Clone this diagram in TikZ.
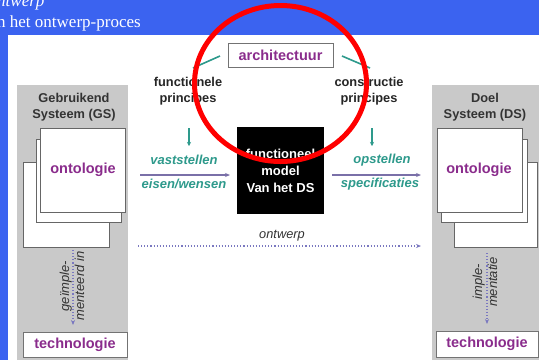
\documentclass[tikz,border=0pt]{standalone}
\usepackage{fontspec}
\setmainfont{Liberation Sans}
\newfontfamily\serifhead{Liberation Serif}
\usetikzlibrary{arrows.meta}
\definecolor{bgblue}{HTML}{3B63F0}
\definecolor{panelgray}{HTML}{C9C9C9}
\definecolor{purp}{HTML}{8A2C8C}
\definecolor{tealc}{HTML}{2E9A8C}
\definecolor{arrowc}{HTML}{7A70A8}
\definecolor{txtgray}{HTML}{333333}
\definecolor{dotblue}{HTML}{7A78C0}
\begin{document}
\begin{tikzpicture}[x=1pt,y=-1pt,
  pagebox/.style={draw=black!60, fill=white, line width=0.6pt},
  panelhead/.style={font=\bfseries\fontsize{12.8}{16}\selectfont, text=txtgray, align=center},
  purpword/.style={font=\bfseries\fontsize{14.5}{16}\selectfont, text=purp},
  purpbox/.style={draw=black!55, fill=white, line width=0.7pt, font=\bfseries\fontsize{14.5}{16}\selectfont, text=purp, inner sep=0pt},
  princ/.style={font=\bfseries\fontsize{12.8}{16}\selectfont, text=black!85, align=center},
  tealtxt/.style={font=\bfseries\itshape\fontsize{13}{14}\selectfont, text=tealc},
  rottxt/.style={font=\itshape\fontsize{13}{15}\selectfont, text=txtgray, align=center, rotate=90},
  flowarrow/.style={draw=arrowc, line width=1.1pt, -{Stealth[length=5pt,width=4pt]}},
  dotarrow/.style={draw=dotblue, line width=1.1pt, dotted, -{Stealth[length=5pt,width=4pt]}},
  tealline/.style={draw=tealc, line width=1.6pt},
  tealarrow/.style={draw=tealc, line width=1.3pt, -{Stealth[length=4pt,width=4pt]}}
]
\useasboundingbox (0,0) rectangle (539,360);
% background
\fill[bgblue] (0,0) rectangle (539,35);
\fill[bgblue] (0,0) rectangle (8,360);
\fill[white] (8,35) rectangle (539,360);
\node[anchor=base west, inner sep=0pt, text=white, font=\serifhead\itshape\fontsize{17}{17}\selectfont] (ttl) at (-3,6) {ntwerp};
\node[anchor=base west, inner sep=0pt, text=white, font=\serifhead\fontsize{17}{17}\selectfont] (sub) at (-3,27) {n het ontwerp-proces};
% panels
\fill[panelgray] (17,85) rectangle (128,360);
\fill[panelgray] (432,85) rectangle (539,360);
% left stack
\draw[pagebox] (23,162) rectangle (109,247);
\draw[pagebox] (36,139) rectangle (121,222);
\draw[pagebox] (40,128) rectangle (125,212);
% right stack
\draw[pagebox] (454,162) rectangle (537,247);
\draw[pagebox] (441,139) rectangle (527,222);
\draw[pagebox] (437,128) rectangle (522,212);
% panel texts
\node[panelhead] (gs) at (74,107) {Gebruikend\\Systeem (GS)};
\node[panelhead] (ds) at (485,107) {Doel\\Systeem (DS)};
\node[purpword] (ontl) at (83,170) {ontologie};
\node[purpword] (ontr) at (479,170) {ontologie};
\node[purpbox, minimum width=104pt, minimum height=25pt] (techl) at (75,344.5) {technologie};
\node[purpbox, minimum width=102pt, minimum height=26pt] (techr) at (487,344) {technologie};
% vertical dotted arrows
\coordinate (vl1) at (73,250);
\coordinate (vl2) at (73,325);
\draw[dotarrow] (vl1) -- (vl2);
\node[rottxt] (impl) at (72,286) {geïmple-\\menteerd in};
\coordinate (vr1) at (487,253);
\coordinate (vr2) at (487,324);
\draw[dotarrow] (vr1) -- (vr2);
\node[rottxt] (impr) at (485,282) {imple-\\mentatie};
% top
\node[purpbox, minimum width=105pt, minimum height=24pt] (arch) at (280.5,55) {architectuur};
\node[princ] (fp) at (188,91) {functionele\\principes};
\node[princ] (cp) at (369,91) {constructie\\principes};
\coordinate (tl1) at (193,68);
\coordinate (tl2) at (220,56);
\coordinate (tr1) at (342,56);
\coordinate (tr2) at (370,68);
\draw[tealline] (tl1) -- (tl2);
\draw[tealline] (tr1) -- (tr2);
\coordinate (al1) at (189,128);
\coordinate (al2) at (189,146);
\coordinate (ar1) at (372,128);
\coordinate (ar2) at (372,146);
\draw[tealarrow] (al1) -- (al2);
\draw[tealarrow] (ar1) -- (ar2);
% black box
\node[fill=black, minimum width=87pt, minimum height=87pt, inner sep=0pt, text=white, align=center, font=\bfseries\fontsize{13}{17}\selectfont] (fm) at (280.5,170.5) {functioneel\\model\\Van het DS};
% side arrows
\coordinate (ll) at (140,175);
\coordinate (lr) at (230,175);
\draw[flowarrow] (ll) -- (lr);
\node[tealtxt] (vs) at (184,160) {vaststellen};
\node[tealtxt] (ew) at (184,184) {eisen/wensen};
\coordinate (rl) at (332,175);
\coordinate (rr) at (421,175);
\draw[flowarrow] (rl) -- (rr);
\node[tealtxt] (op) at (382,160) {opstellen};
\node[tealtxt] (sp) at (380,184) {specificaties};
% ontwerp
\coordinate (ol) at (138,246);
\coordinate (or) at (421,246);
\draw[dotarrow] (ol) -- (or);
\node[font=\itshape\fontsize{12.8}{14}\selectfont, text=txtgray] (ow) at (282,236) {ontwerp};
% red circle
\draw[red, line width=5pt] (280.5,83.5) ellipse [x radius=86pt, y radius=78pt];
\end{tikzpicture}
\end{document}
